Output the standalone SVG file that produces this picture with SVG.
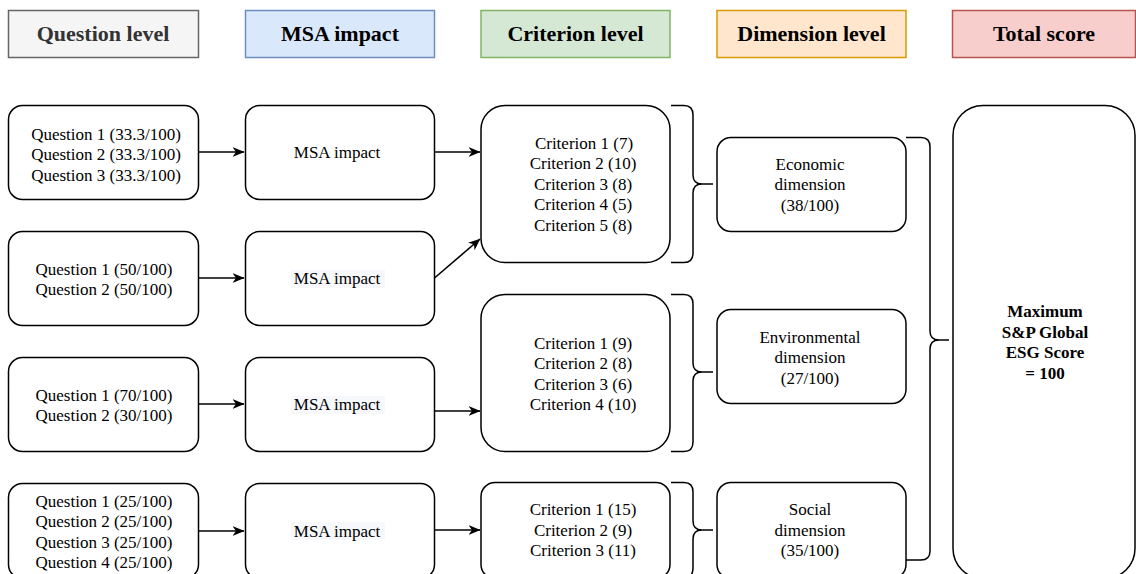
<svg xmlns="http://www.w3.org/2000/svg" width="1136" height="574" viewBox="0 0 1136 574">
  <defs>
    <style>
      .box { fill: #ffffff; stroke: #000000; stroke-width: 1.5; }
      .hdr { stroke-width: 1.5; }
      .htxt { font-family: "Liberation Serif", "Times New Roman", serif; font-size: 22px; font-weight: bold; text-anchor: middle; fill: #000000; }
      .txt { font-family: "Liberation Serif", "Times New Roman", serif; font-size: 17px; text-anchor: middle; fill: #000000; }
      .bold { font-weight: bold; font-size: 17px; }
      .edge { fill: none; stroke: #000000; stroke-width: 1.6; }
      .brace { fill: none; stroke: #000000; stroke-width: 1.5; }
      .lblbg { fill: #f6f8fb; }
    </style>
    <marker id="arrow" viewBox="0 0 12 10" refX="11.5" refY="5" markerWidth="12" markerHeight="10" markerUnits="userSpaceOnUse" orient="auto">
      <path d="M0,0 L12,5 L0,10 L3.5,5 Z" fill="#000000"/>
    </marker>
  </defs>
  <rect width="1136" height="574" fill="#ffffff"/>

  <!-- column headers -->
  <g id="hdr-question">
    <rect class="hdr" x="8.5" y="10.5" width="190" height="47" fill="#f5f5f5" stroke="#666666"/>
    <text class="htxt" x="103" y="41" style="fill:#333333">Question level</text>
  </g>
  <g id="hdr-msa">
    <rect class="hdr" x="245.5" y="10.5" width="189" height="47" fill="#dae8fc" stroke="#6c8ebf"/>
    <text class="htxt" x="340" y="41">MSA impact</text>
  </g>
  <g id="hdr-criterion">
    <rect class="hdr" x="481" y="10.5" width="189" height="47" fill="#d5e8d4" stroke="#82b366"/>
    <text class="htxt" x="575.5" y="41">Criterion level</text>
  </g>
  <g id="hdr-dimension">
    <rect class="hdr" x="717" y="10.5" width="189" height="47" fill="#ffe6cc" stroke="#d79b00"/>
    <text class="htxt" x="811.5" y="41">Dimension level</text>
  </g>
  <g id="hdr-total">
    <rect class="hdr" x="952.5" y="10.5" width="183" height="47" fill="#f8cecc" stroke="#b85450"/>
    <text class="htxt" x="1044" y="41">Total score</text>
  </g>

  <!-- question level -->
  <g id="q1">
    <rect class="box" x="8.5" y="105.5" width="190" height="94" rx="14"/>
    <text class="txt" x="106" y="139.5">Question 1 (33.3/100)</text>
    <text class="txt" x="106" y="160">Question 2 (33.3/100)</text>
    <text class="txt" x="106" y="180.5">Question 3 (33.3/100)</text>
  </g>
  <g id="q2">
    <rect class="box" x="8.5" y="231.5" width="190" height="94" rx="14"/>
    <text class="txt" x="104" y="274.5">Question 1 (50/100)</text>
    <text class="txt" x="104" y="295">Question 2 (50/100)</text>
  </g>
  <g id="q3">
    <rect class="box" x="8.5" y="357.5" width="190" height="94" rx="14"/>
    <text class="txt" x="104" y="400.5">Question 1 (70/100)</text>
    <text class="txt" x="104" y="421">Question 2 (30/100)</text>
  </g>
  <g id="q4">
    <rect class="box" x="8.5" y="483.5" width="190" height="95" rx="14"/>
    <text class="txt" x="104" y="506.5">Question 1 (25/100)</text>
    <text class="txt" x="104" y="527">Question 2 (25/100)</text>
    <text class="txt" x="104" y="547.5">Question 3 (25/100)</text>
    <text class="txt" x="104" y="568">Question 4 (25/100)</text>
  </g>

  <!-- MSA impact -->
  <g id="msa1">
    <rect class="box" x="245.5" y="105.5" width="189" height="94" rx="14"/>
    <text class="txt" x="337" y="158">MSA impact</text>
  </g>
  <g id="msa2">
    <rect class="box" x="245.5" y="231.5" width="189" height="94" rx="14"/>
    <rect class="lblbg" x="291" y="270" width="94" height="18"/>
    <text class="txt" x="337" y="284">MSA impact</text>
  </g>
  <g id="msa3">
    <rect class="box" x="245.5" y="357.5" width="189" height="94" rx="14"/>
    <rect class="lblbg" x="291" y="396" width="94" height="18"/>
    <text class="txt" x="337" y="410">MSA impact</text>
  </g>
  <g id="msa4">
    <rect class="box" x="245.5" y="483.5" width="189" height="95" rx="14"/>
    <rect class="lblbg" x="291" y="522" width="94" height="18"/>
    <text class="txt" x="337" y="537">MSA impact</text>
  </g>

  <!-- criterion level -->
  <g id="crit-economic">
    <rect class="box" x="481" y="105.5" width="189" height="157" rx="24"/>
    <text class="txt" x="584" y="148.5">Criterion 1 (7)</text>
    <text class="txt" x="583" y="169">Criterion 2 (10)</text>
    <text class="txt" x="583" y="189.5">Criterion 3 (8)</text>
    <text class="txt" x="583" y="210">Criterion 4 (5)</text>
    <text class="txt" x="583" y="230.5">Criterion 5 (8)</text>
  </g>
  <g id="crit-environmental">
    <rect class="box" x="481" y="294.5" width="189" height="157" rx="24"/>
    <text class="txt" x="583" y="348.5">Criterion 1 (9)</text>
    <text class="txt" x="583" y="369">Criterion 2 (8)</text>
    <text class="txt" x="583" y="389.5">Criterion 3 (6)</text>
    <text class="txt" x="583" y="410">Criterion 4 (10)</text>
  </g>
  <g id="crit-social">
    <rect class="box" x="481" y="482.5" width="189" height="96" rx="14"/>
    <text class="txt" x="583" y="515">Criterion 1 (15)</text>
    <text class="txt" x="583" y="535.5">Criterion 2 (9)</text>
    <text class="txt" x="583" y="556">Criterion 3 (11)</text>
  </g>

  <!-- dimension level -->
  <g id="dim-economic">
    <rect class="box" x="717" y="137.5" width="189" height="94" rx="14"/>
    <text class="txt" x="810" y="169.5">Economic</text>
    <text class="txt" x="810" y="190">dimension</text>
    <text class="txt" x="810" y="210.5">(38/100)</text>
  </g>
  <g id="dim-environmental">
    <rect class="box" x="717" y="309.5" width="189" height="94" rx="14"/>
    <text class="txt" x="810" y="342.5">Environmental</text>
    <text class="txt" x="810" y="363">dimension</text>
    <text class="txt" x="810" y="383.5">(27/100)</text>
  </g>
  <g id="dim-social">
    <rect class="box" x="717" y="482.5" width="189" height="96" rx="14"/>
    <text class="txt" x="810" y="515">Social</text>
    <text class="txt" x="810" y="535.5">dimension</text>
    <text class="txt" x="810" y="556">(35/100)</text>
  </g>

  <!-- total score -->
  <g id="total">
    <rect class="box" x="953" y="105.5" width="182" height="473" rx="30"/>
    <text class="txt bold" x="1045" y="317">Maximum</text>
    <text class="txt bold" x="1045" y="337.5">S&amp;P Global</text>
    <text class="txt bold" x="1045" y="358">ESG Score</text>
    <text class="txt bold" x="1045" y="378.5">= 100</text>
  </g>

  <!-- connectors: arrows and grouping braces -->
  <g id="connectors">
    <path class="edge" d="M198.5,152 H244" marker-end="url(#arrow)"/>
    <path class="edge" d="M198.5,278 H244" marker-end="url(#arrow)"/>
    <path class="edge" d="M198.5,404 H244" marker-end="url(#arrow)"/>
    <path class="edge" d="M198.5,531 H244" marker-end="url(#arrow)"/>
    <path class="edge" d="M434.5,152 H480" marker-end="url(#arrow)"/>
    <path class="edge" d="M434.5,278 L480,239" marker-end="url(#arrow)"/>
    <path class="edge" d="M434.5,411 H480" marker-end="url(#arrow)"/>
    <path class="edge" d="M434.5,530 H480" marker-end="url(#arrow)"/>

    <path class="brace" d="M671,105.5 H684 Q693,105.5 693,115 V175 Q693,184 702,184 H713 M702,184 Q693,184 693,193 V253 Q693,262.5 684,262.5 H671"/>
    <path class="brace" d="M671,294.5 H684 Q693,294.5 693,304 V363 Q693,372 702,372 H713 M702,372 Q693,372 693,381 V442 Q693,451.5 684,451.5 H671"/>
    <path class="brace" d="M671,482.5 H684 Q693,482.5 693,492 V521 Q693,530 702,530 H713 M702,530 Q693,530 693,539 V568 Q693,578 684,578 H671"/>
    <path class="brace" d="M906,137.5 H921 Q930,137.5 930,147 V331 Q930,340 939,340 H949 M939,340 Q930,340 930,349 V551 Q930,560 921,560 H906"/>
  </g>
</svg>
